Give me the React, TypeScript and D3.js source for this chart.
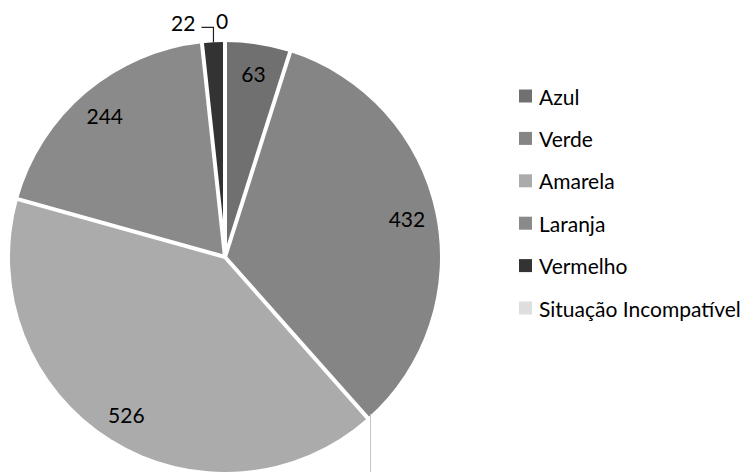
import React from "react";
import * as d3 from "d3";

const categories = ["Azul", "Verde", "Amarela", "Laranja", "Vermelho", "Situação Incompatível"];
const values = [63, 432, 526, 244, 22, 0];
const colors = ["#707070", "#858585", "#ababab", "#8a8a8a", "#333333", "#dedede"];

const W = 748;
const H = 472;
const cx = 225;
const cy = 257;
const R = 215;
const FONT = "Lato, 'Open Sans', sans-serif";
const FS = 21;

export default function App() {
  const pie = d3.pie<number>().sort(null).value((d) => d)(values);
  const arc = d3.arc<d3.PieArcDatum<number>>().innerRadius(0).outerRadius(R);
  const pt = (a: number, r: number) => [Math.sin(a) * r, -Math.cos(a) * r];

  const bounds = pie.map((p) => p.startAngle);
  const vermelho = pie[4];
  const vMid = (vermelho.startAngle + vermelho.endAngle) / 2;
  const [vx, vy] = pt(vMid, R);
  const verdeEnd = pie[1].endAngle;
  const [bx, by] = pt(verdeEnd, R);

  const legendX = 519;
  const legendY0 = 96;
  const legendStep = 42.4;

  return (
    <svg width={W} height={H} style={{ position: "absolute", left: 0, top: 0, background: "#fff" }}>
      <g transform={`translate(${cx},${cy})`}>
        {pie.map((p, i) => (
          <path key={i} d={arc(p) || ""} fill={colors[i]} />
        ))}
        {bounds.map((a, i) => {
          const [x, y] = pt(a, R + 2);
          const thin = i === 0;
          return (
            <line
              key={"b" + i}
              x1={0}
              y1={0}
              x2={x}
              y2={y}
              stroke={thin ? "#d8d8d8" : "#fff"}
              strokeWidth={thin ? 1 : 4}
            />
          );
        })}
        <line x1={bx + 3} y1={by - 4} x2={bx + 3} y2={H - cy} stroke="#c4c4c4" strokeWidth={1} />
        <polyline
          points={`${vx},${vy} ${vx},${vy - 15} ${vx - 12},${vy - 15}`}
          fill="none"
          stroke="#222"
          strokeWidth={1.2}
        />
        {pie.map((p, i) => {
          if (i === 4) {
            return (
              <text key={"l" + i} x={vx - 18} y={vy - 20} textAnchor="end" dominantBaseline="central" fontFamily={FONT} fontSize={FS} fill="#000">
                {values[i]}
              </text>
            );
          }
          if (i === 5) {
            const [x, y] = pt(p.startAngle, R);
            return (
              <text key={"l" + i} x={x - 3} y={y - 22} textAnchor="middle" dominantBaseline="central" fontFamily={FONT} fontSize={FS} fill="#000">
                {values[i]}
              </text>
            );
          }
          const mid = (p.startAngle + p.endAngle) / 2;
          const [x, y] = pt(mid, R * 0.865);
          return (
            <text key={"l" + i} x={x} y={y} textAnchor="middle" dominantBaseline="central" fontFamily={FONT} fontSize={FS} fill="#000">
              {values[i]}
            </text>
          );
        })}
      </g>
      {categories.map((c, i) => (
        <g key={"lg" + i} transform={`translate(${legendX},${legendY0 + i * legendStep})`}>
          <rect x={0} y={-6.5} width={13} height={13} fill={colors[i]} />
          <text x={20} y={0} dominantBaseline="central" fontFamily={FONT} fontSize={FS} fill="#000">
            {c}
          </text>
        </g>
      ))}
    </svg>
  );
}
